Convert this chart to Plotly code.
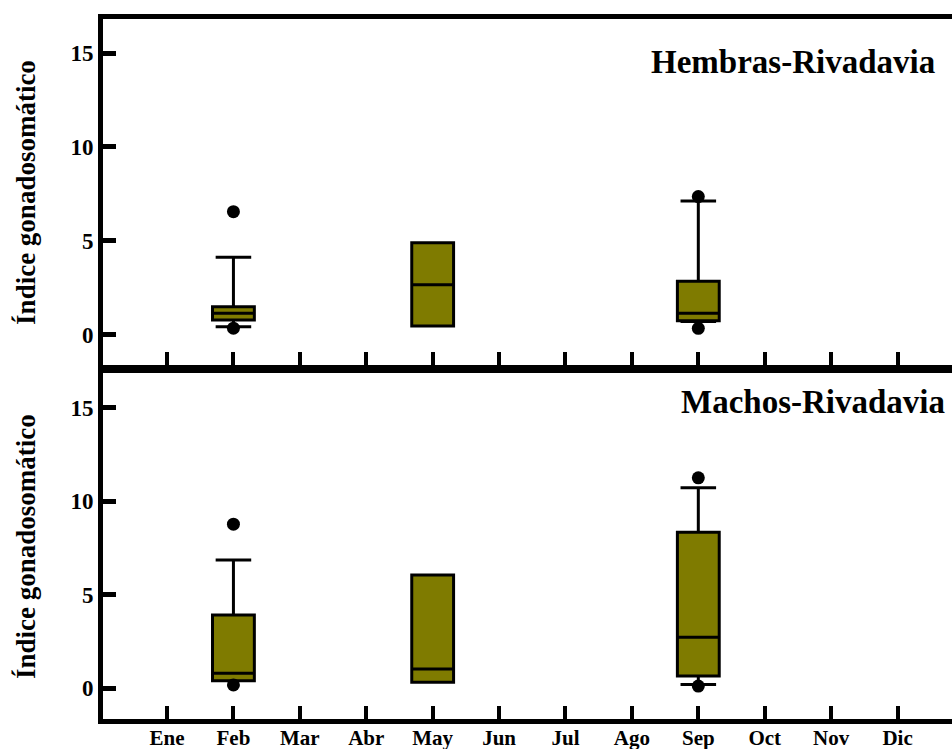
import plotly.graph_objects as go
from plotly.subplots import make_subplots

months = ["Ene", "Feb", "Mar", "Abr", "May", "Jun", "Jul", "Ago", "Sep", "Oct", "Nov", "Dic"]
month_pos = list(range(1, 13))

# Box positions (month numbers)
box_x = [2, 5, 9]

# Hembras-Rivadavia
h_q1 = [0.80, 0.48, 0.75]
h_med = [1.15, 2.67, 1.15]
h_q3 = [1.50, 4.90, 2.85]
h_low = [0.44, 0.48, 0.72]
h_up = [4.13, 4.90, 7.13]
h_out_x = [2, 2, 9, 9]
h_out_y = [6.56, 0.36, 7.36, 0.35]

# Machos-Rivadavia
m_q1 = [0.41, 0.32, 0.66]
m_med = [0.80, 1.03, 2.73]
m_q3 = [3.92, 6.06, 8.34]
m_low = [0.41, 0.32, 0.21]
m_up = [6.86, 6.06, 10.72]
m_out_x = [2, 2, 9, 9]
m_out_y = [8.77, 0.18, 11.25, 0.12]

OLIVE = "#7f7b00"
FONT = "Liberation Serif, Times New Roman, serif"

fig = make_subplots(rows=2, cols=1, shared_xaxes=False, vertical_spacing=0.0)

def add_panel(row, q1, med, q3, low, up, ox, oy):
    fig.add_trace(go.Box(
        x=box_x, q1=q1, median=med, q3=q3, lowerfence=low, upperfence=up,
        fillcolor=OLIVE, line=dict(color="black", width=3),
        width=0.63, whiskerwidth=0.85, boxpoints=False, showlegend=False,
    ), row=row, col=1)
    fig.add_trace(go.Scatter(
        x=ox, y=oy, mode="markers",
        marker=dict(color="black", size=13), showlegend=False,
    ), row=row, col=1)

add_panel(1, h_q1, h_med, h_q3, h_low, h_up, h_out_x, h_out_y)
add_panel(2, m_q1, m_med, m_q3, m_low, m_up, m_out_x, m_out_y)

ytickfont = dict(family=FONT, size=23, color="black", weight="bold")
xtickfont = dict(family=FONT, size=21, color="black", weight="bold")
xcommon = dict(range=[0.036, 12.82], tickmode="array", tickvals=month_pos,
               ticks="inside", ticklen=13, tickwidth=4, tickcolor="black",
               showline=True, linewidth=5, linecolor="black", automargin=False,
               showgrid=False, zeroline=False, tickfont=xtickfont)
ycommon = dict(tickmode="array", tickvals=[0, 5, 10, 15],
               ticktext=["0", "5", "10", "15"],
               ticks="inside", ticklen=13, tickwidth=5, tickcolor="black",
               showline=True, linewidth=5, linecolor="black", automargin=False,
               showgrid=False, zeroline=False, tickfont=ytickfont)

fig.update_xaxes(**xcommon, ticktext=[""] * 12, showticklabels=False, mirror=True,
                 domain=[0, 1], row=1, col=1)
fig.update_xaxes(**xcommon, ticktext=months, mirror=True, ticklabelstandoff=-4,
                 domain=[0, 1], row=2, col=1)
fig.update_yaxes(**ycommon, range=[-1.60, 16.81], domain=[0.5057, 1.0], row=1, col=1)
fig.update_yaxes(**ycommon, range=[-1.64, 16.85], domain=[0.0, 0.4943], row=2, col=1)

annots = [
    dict(text="Hembras-Rivadavia", x=0.9823, y=0.9386, xanchor="right", yanchor="middle",
         font=dict(family=FONT, size=33, color="black", weight="bold")),
    dict(text="Machos-Rivadavia", x=0.9941, y=0.4529, xanchor="right", yanchor="middle",
         font=dict(family=FONT, size=33, color="black", weight="bold")),
    dict(text="Índice gonadosomático", x=-0.0907, y=0.753, xanchor="center", yanchor="middle",
         textangle=-90, font=dict(family=FONT, size=27, color="black", weight="bold")),
    dict(text="Índice gonadosomático", x=-0.0907, y=0.247, xanchor="center", yanchor="middle",
         textangle=-90, font=dict(family=FONT, size=27, color="black", weight="bold")),
]
for a in annots:
    a.update(xref="paper", yref="paper", showarrow=False)
fig.update_layout(annotations=annots)

fig.update_layout(
    width=952, height=749,
    margin=dict(l=103, r=0, t=19, b=30, autoexpand=False),
    paper_bgcolor="white", plot_bgcolor="white",
    showlegend=False,
)

fig.write_html("out.html", config={"displayModeBar": False})
